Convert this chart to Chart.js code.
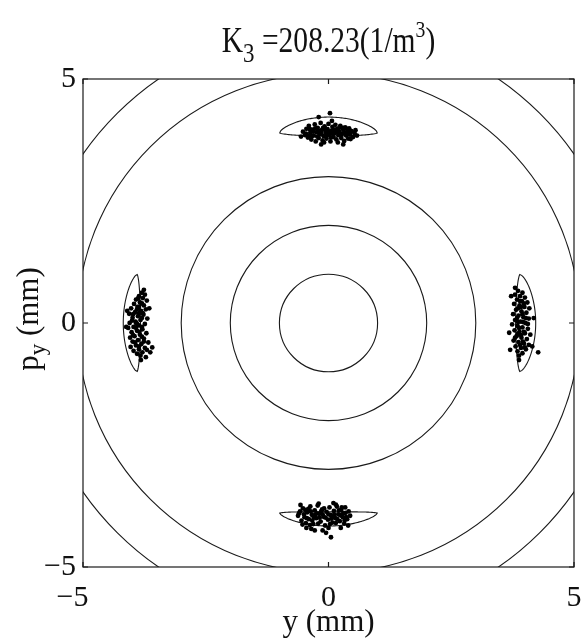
<!DOCTYPE html>
<html><head><meta charset="utf-8">
<script src="https://cdn.jsdelivr.net/npm/chart.js@4.4.0/dist/chart.umd.min.js"></script>
<style>html,body{margin:0;padding:0;background:#fff;overflow:hidden}canvas{display:block}</style>
</head><body>
<canvas id="c" width="583" height="639"></canvas>
<script>
// ---- data (mm) ----
const axisTicks = [-5, 0, 5];
const contourRadii = [1, 2, 3, 5.12, 6.08];
const islandAnglesDeg = [90, 180, 270, 0];
const islandOuterR = [4.22, 4.18, 4.16, 4.22];
const islandInnerR = [3.83, 3.83, 3.87, 3.81];
const islandEndR = 4.02;
const islandHalfWidthDeg = 14.3;

const topY = [-0.52,-0.48,-0.45,-0.42,-0.40,-0.37,-0.35,-0.33,-0.30,-0.28,-0.26,-0.24,-0.22,-0.20,-0.18,-0.16,-0.14,-0.12,-0.10,-0.08,-0.06,-0.04,-0.02,0.00,0.02,0.04,0.06,0.08,0.10,0.12,0.14,0.16,0.18,0.20,0.22,0.24,0.26,0.28,0.30,0.32,0.34,0.36,0.38,0.40,0.42,0.44,0.47,0.50,0.53,0.58,-0.46,-0.38,-0.31,-0.23,-0.15,-0.07,0.01,0.09,0.17,0.25,0.33,0.41,-0.27,-0.11,0.05,0.21,0.37,-0.19,0.13,-0.03,0.29,-0.41,0.45,-0.34,0.07,-0.09,0.19,0.03,-0.20,0.30,-0.15,0.55,-0.56];
const topP = [3.92,3.85,3.98,3.80,4.04,3.90,3.76,3.96,3.84,4.07,3.72,3.91,4.00,3.79,3.87,4.10,3.95,3.74,3.83,4.03,3.90,3.78,3.97,4.08,3.86,3.72,3.94,4.02,3.81,3.89,4.06,3.76,3.98,3.85,3.92,4.04,3.79,3.88,3.96,3.73,4.01,3.84,3.91,3.78,3.99,3.86,3.93,3.81,3.89,3.84,3.88,3.97,3.92,3.82,3.88,3.96,3.91,3.88,3.91,3.86,3.90,3.93,3.99,4.00,3.80,3.99,3.98,3.93,3.96,3.85,4.00,3.84,3.77,3.83,4.14,3.70,3.70,4.30,4.22,3.66,3.66,3.95,3.82];

const botY = [-0.62,-0.58,-0.55,-0.52,-0.49,-0.46,-0.43,-0.40,-0.37,-0.34,-0.31,-0.28,-0.25,-0.22,-0.19,-0.16,-0.13,-0.10,-0.07,-0.04,-0.01,0.02,0.05,0.08,0.11,0.14,0.17,0.20,0.23,0.26,0.29,0.32,0.35,0.38,0.41,0.44,-0.60,-0.50,-0.44,-0.36,-0.30,-0.24,-0.18,-0.12,-0.06,0.00,0.06,0.12,0.18,0.24,0.30,0.36,-0.53,-0.41,-0.33,-0.21,-0.09,0.03,0.15,0.27,-0.47,-0.27,-0.15,0.09,0.21,0.33,-0.38,0.00,-0.57,0.40,-0.20,0.10,-0.35,0.25,-0.05,0.15,-0.45,0.34,-0.28,-0.12,0.05];
const botP = [-3.95,-3.86,-4.05,-3.80,-3.98,-4.10,-3.88,-4.02,-3.76,-3.93,-4.12,-3.84,-4.00,-3.74,-3.91,-4.07,-3.82,-3.97,-4.15,-3.87,-4.03,-3.78,-3.94,-4.09,-3.85,-4.00,-3.76,-3.92,-4.06,-3.83,-3.98,-4.11,-3.89,-4.02,-3.86,-3.95,-3.90,-3.92,-4.00,-3.86,-3.99,-3.90,-3.99,-3.92,-3.99,-3.92,-4.01,-3.93,-4.02,-3.94,-3.90,-3.98,-4.13,-3.81,-4.05,-4.11,-3.80,-4.12,-4.10,-3.78,-3.83,-3.93,-3.86,-3.96,-3.84,-4.04,-4.14,-4.20,-3.73,-4.15,-3.70,-3.69,-4.22,-4.20,-4.30,-3.72,-4.20,-3.78,-4.25,-4.25,-4.39];

const leftY = [-3.80,-3.74,-3.86,-3.78,-3.92,-3.70,-3.84,-3.96,-3.76,-3.89,-4.02,-3.72,-3.82,-3.94,-4.06,-3.77,-3.88,-3.99,-3.69,-3.83,-3.93,-4.05,-3.74,-3.86,-3.97,-4.08,-3.79,-3.90,-4.01,-3.71,-3.84,-3.95,-4.04,-3.76,-3.88,-3.99,-3.67,-3.81,-3.92,-4.03,-3.74,-3.86,-3.97,-3.79,-3.90,-3.83,-3.88,-3.80,-3.90,-3.98,-3.80,-3.90,-3.80,-3.92,-3.80,-3.94,-3.86,-3.70,-3.92,-3.78,-3.86,-3.98,-3.86,-3.76,-4.00,-3.85,-3.63,-3.59,-4.12,-3.82,-3.76,-4.10,-3.65,-3.72];
const leftP = [0.62,0.58,0.55,0.51,0.48,0.46,0.42,0.39,0.36,0.33,0.30,0.28,0.25,0.22,0.19,0.17,0.14,0.11,0.09,0.06,0.03,0.00,-0.02,-0.05,-0.08,-0.10,-0.13,-0.16,-0.19,-0.21,-0.24,-0.27,-0.30,-0.32,-0.35,-0.38,-0.40,-0.43,-0.46,-0.49,-0.51,-0.54,-0.57,-0.60,-0.63,-0.67,0.50,0.40,0.28,0.18,0.10,-0.02,-0.08,-0.10,-0.28,-0.40,-0.48,-0.55,0.00,0.20,0.33,-0.25,0.20,-0.38,0.05,-0.18,-0.60,-0.50,-0.08,-0.76,0.68,0.25,0.30,-0.70];

const rightY = [3.86,3.95,3.80,3.90,4.00,3.84,3.94,4.05,3.78,3.89,3.99,4.09,3.82,3.93,4.03,3.76,3.87,3.97,4.08,3.80,3.91,4.01,3.74,3.85,3.95,4.06,3.79,3.89,4.00,4.11,3.83,3.93,4.04,3.77,3.87,3.98,4.08,3.81,3.92,4.02,3.85,3.95,3.88,3.90,3.98,3.86,3.95,3.84,3.96,3.88,3.98,3.86,3.96,3.90,4.06,3.80,3.92,4.02,3.92,3.86,4.00,3.80,3.72,4.15,4.27,3.70,3.88,4.18,3.68];
const rightP = [0.66,0.62,0.58,0.55,0.52,0.48,0.45,0.42,0.39,0.36,0.33,0.30,0.27,0.24,0.21,0.18,0.15,0.12,0.09,0.06,0.03,0.00,-0.03,-0.06,-0.09,-0.12,-0.15,-0.18,-0.21,-0.24,-0.27,-0.30,-0.33,-0.36,-0.39,-0.42,-0.45,-0.48,-0.51,-0.54,-0.58,-0.62,-0.67,0.45,0.40,0.30,0.18,0.10,0.02,-0.10,-0.18,-0.22,-0.38,-0.45,-0.02,-0.30,0.33,0.10,-0.25,0.02,-0.50,0.72,0.55,-0.48,-0.60,-0.55,-0.76,0.10,-0.20];

const FONT = '"Liberation Serif", "Times New Roman", serif';
const pts = (xs, ys) => xs.map((v, i) => ({x: v, y: ys[i]}));

function ds(xs, ys) {
  return { data: pts(xs, ys), pointRadius: 2.4, pointHoverRadius: 2.4,
           backgroundColor: '#000', borderWidth: 0, showLine: false };
}

const contourPlugin = {
  id: 'contours',
  beforeDatasetsDraw(chart) {
    const {ctx, chartArea: a, scales: {x, y}} = chart;
    ctx.save();
    ctx.beginPath(); ctx.rect(a.left, a.top, a.right - a.left, a.bottom - a.top); ctx.clip();
    ctx.strokeStyle = '#1a1a1a'; ctx.lineWidth = 1.1;
    const cx = x.getPixelForValue(0), cy = y.getPixelForValue(0);
    contourRadii.forEach(r => {
      const rx = Math.abs(x.getPixelForValue(r) - cx), ry = Math.abs(y.getPixelForValue(r) - cy);
      ctx.beginPath(); ctx.ellipse(cx, cy, rx, ry, 0, 0, Math.PI * 2); ctx.stroke();
    });
    const h = islandHalfWidthDeg * Math.PI / 180;
    islandAnglesDeg.forEach((deg, k) => {
      const c = deg * Math.PI / 180;
      ctx.beginPath();
      const N = 80;
      for (let i = 0; i <= N; i++) {
        const t = -1 + 2 * i / N, th = c + h * t;
        const r = islandEndR + (islandOuterR[k] - islandEndR) * Math.pow(1 - t * t, 0.6);
        const px = x.getPixelForValue(r * Math.cos(th)), py = y.getPixelForValue(r * Math.sin(th));
        i ? ctx.lineTo(px, py) : ctx.moveTo(px, py);
      }
      for (let i = N; i >= 0; i--) {
        const t = -1 + 2 * i / N, th = c + h * t;
        const r = islandEndR - (islandEndR - islandInnerR[k]) * Math.pow(1 - t * t, 0.8);
        ctx.lineTo(x.getPixelForValue(r * Math.cos(th)), y.getPixelForValue(r * Math.sin(th)));
      }
      ctx.closePath(); ctx.stroke();
    });
    ctx.restore();
  }
};

const framePlugin = {
  id: 'frame',
  afterDatasetsDraw(chart) {
    const {ctx, chartArea: a, scales: {x, y}} = chart;
    ctx.save();
    ctx.strokeStyle = '#1a1a1a'; ctx.lineWidth = 1.2;
    ctx.strokeRect(a.left, a.top, a.right - a.left, a.bottom - a.top);
    const L = 5;
    axisTicks.forEach(v => {
      const px = x.getPixelForValue(v), py = y.getPixelForValue(v);
      ctx.beginPath();
      ctx.moveTo(px, a.bottom); ctx.lineTo(px, a.bottom - L);
      ctx.moveTo(px, a.top); ctx.lineTo(px, a.top + L);
      ctx.moveTo(a.left, py); ctx.lineTo(a.left + L, py);
      ctx.moveTo(a.right, py); ctx.lineTo(a.right - L, py);
      ctx.stroke();
    });
    ctx.restore();
  }
};

function drawRuns(ctx, runs, sx) {
  let w = 0;
  runs.forEach(r => { ctx.font = r.size + 'px ' + FONT; r.w = ctx.measureText(r.t).width; w += r.w; });
  ctx.save(); ctx.scale(sx, 1);
  let xx = -w / 2;
  ctx.textBaseline = 'alphabetic'; ctx.textAlign = 'left';
  runs.forEach(r => { ctx.font = r.size + 'px ' + FONT; ctx.fillText(r.t, xx, r.dy || 0); xx += r.w; });
  ctx.restore();
}

const textPlugin = {
  id: 'texts',
  afterDraw(chart) {
    const ctx = chart.ctx, a = chart.chartArea;
    const cx = (a.left + a.right) / 2;
    ctx.save(); ctx.fillStyle = '#111';
    ctx.save(); ctx.translate(cx, 52);
    drawRuns(ctx, [{t: 'K', size: 36}, {t: '3', size: 28, dy: 10}, {t: ' =208.23(1/m', size: 36}, {t: '3', size: 24, dy: -15}, {t: ')', size: 36}], 0.82);
    ctx.restore();
    ctx.save(); ctx.translate(cx, 631);
    drawRuns(ctx, [{t: 'y (mm)', size: 31}], 1);
    ctx.restore();
    ctx.save(); ctx.translate(38, (a.top + a.bottom) / 2 - 4); ctx.rotate(-Math.PI / 2);
    drawRuns(ctx, [{t: 'p', size: 31}, {t: 'y', size: 23, dy: 7}, {t: ' (mm)', size: 31}], 1);
    ctx.restore();
    ctx.restore();
  }
};

const fmt = v => (v < 0 ? '\u2212' + Math.abs(v) : String(v));

new Chart(document.getElementById('c'), {
  type: 'scatter',
  data: { datasets: [ds(topY, topP), ds(botY, botP), ds(leftY, leftP), ds(rightY, rightP)] },
  options: {
    responsive: false, animation: false, events: [],
    layout: { padding: { top: 79, right: 9, bottom: 0, left: 0 } },
    scales: {
      x: { type: 'linear', min: -5, max: 5, afterBuildTicks: s => { s.ticks = axisTicks.map(v => ({value: v})); },
           ticks: { font: { family: FONT, size: 30 }, color: '#111', padding: 13, maxRotation: 0,
                    callback: v => (v < 0 ? fmt(v) + '\u2002\u2009' : fmt(v)) },
           grid: { display: false, drawTicks: false }, border: { display: false },
           afterFit: s => { s.height = 72; s.paddingLeft = 0; s.paddingRight = 0; } },
      y: { type: 'linear', min: -5, max: 5, afterBuildTicks: s => { s.ticks = axisTicks.map(v => ({value: v})); },
           ticks: { font: { family: FONT, size: 30 }, color: '#111', padding: 7, callback: fmt },
           grid: { display: false, drawTicks: false }, border: { display: false },
           afterFit: s => { s.width = 83; s.paddingTop = 0; s.paddingBottom = 0; } }
    },
    plugins: { legend: { display: false }, tooltip: { enabled: false }, title: { display: false } }
  },
  plugins: [contourPlugin, framePlugin, textPlugin]
});
</script></body></html>
